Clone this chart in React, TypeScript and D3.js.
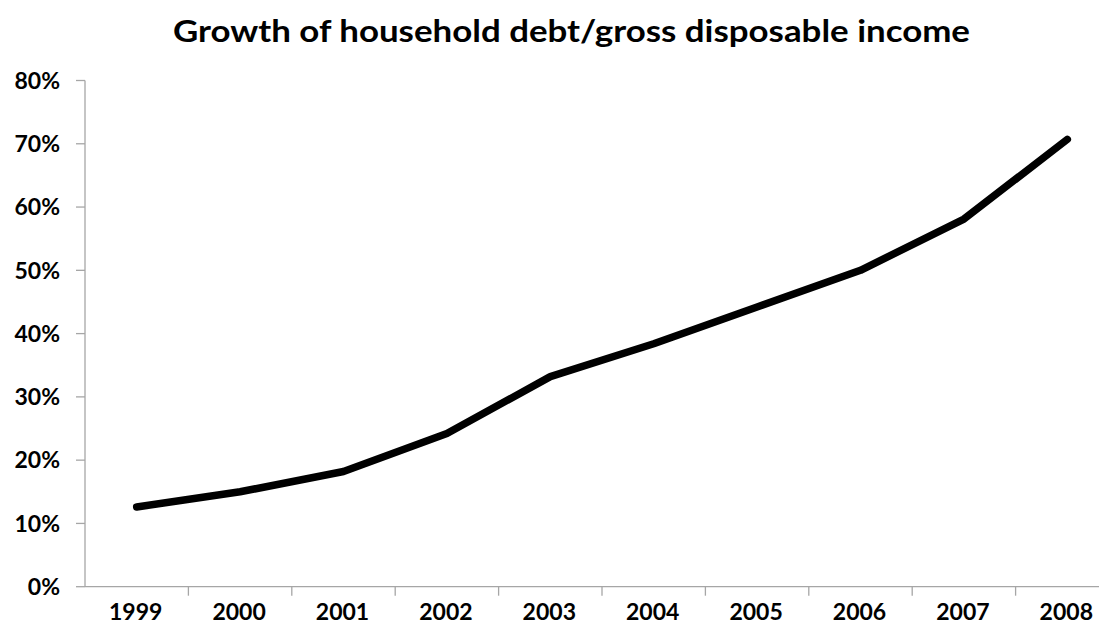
import React, { useEffect, useRef } from "react";
import * as d3 from "d3";

const years = ["1999", "2000", "2001", "2002", "2003", "2004", "2005", "2006", "2007", "2008"];
const debtGrowth = [12.6, 15.0, 18.2, 24.2, 33.2, 38.4, 44.2, 50.0, 58.1, 70.7];
const yTicks = [0, 10, 20, 30, 40, 50, 60, 70, 80];
const title = "Growth of household debt/gross disposable income";

const W = 1099;
const H = 634;
const left = 85;
const bandW = 103.4;
const yTop = 80.5;
const yBottom = 586.7;
const FONT = "Lato, 'Open Sans', sans-serif";

export default function App() {
  const ref = useRef<SVGSVGElement | null>(null);

  useEffect(() => {
    const svg = d3.select(ref.current);
    svg.selectAll("*").remove();

    const x = d3.scaleBand<string>().domain(years).range([left, left + bandW * years.length]).padding(0);
    const y = d3.scaleLinear().domain([0, 80]).range([yBottom, yTop]);

    // Title
    svg.append("text")
      .attr("x", 571.5)
      .attr("y", 42)
      .attr("text-anchor", "middle")
      .attr("font-family", FONT)
      .attr("font-weight", "bold")
      .attr("font-size", 30)
      .attr("textLength", 797)
      .attr("lengthAdjust", "spacingAndGlyphs")
      .attr("fill", "#000")
      .text(title);

    const axisColor = "#a6a6a6";

    // Y axis
    const gy = svg.append("g");
    gy.append("line")
      .attr("x1", left).attr("x2", left)
      .attr("y1", y(80)).attr("y2", y(0))
      .attr("stroke", axisColor).attr("stroke-width", 1.3);
    yTicks.forEach((t) => {
      gy.append("line")
        .attr("x1", left - 9).attr("x2", left)
        .attr("y1", y(t)).attr("y2", y(t))
        .attr("stroke", axisColor).attr("stroke-width", 1.3);
      gy.append("text")
        .attr("x", 60)
        .attr("y", y(t))
        .attr("dy", "0.36em")
        .attr("text-anchor", "end")
        .attr("font-family", FONT)
        .attr("font-weight", "bold")
        .attr("font-size", 23)
        .attr("fill", "#000")
        .text(`${t}%`);
    });

    // X axis
    const gx = svg.append("g");
    gx.append("line")
      .attr("x1", left).attr("x2", W)
      .attr("y1", y(0)).attr("y2", y(0))
      .attr("stroke", axisColor).attr("stroke-width", 1.3);
    years.forEach((yr) => {
      const x0 = x(yr)! + x.bandwidth();
      gx.append("line")
        .attr("x1", x0).attr("x2", x0)
        .attr("y1", y(0)).attr("y2", y(0) + 9)
        .attr("stroke", axisColor).attr("stroke-width", 1.3);
      gx.append("text")
        .attr("x", x(yr)! + x.bandwidth() / 2 - 1)
        .attr("y", 612)
        .attr("dy", "0.36em")
        .attr("text-anchor", "middle")
        .attr("font-family", FONT)
        .attr("font-weight", "bold")
        .attr("font-size", 23)
        .attr("fill", "#000")
        .text(yr);
    });

    // Line
    const line = d3.line<number>()
      .x((_, i) => x(years[i])! + x.bandwidth() / 2)
      .y((d) => y(d));

    svg.append("path")
      .datum(debtGrowth)
      .attr("d", line)
      .attr("fill", "none")
      .attr("stroke", "#000")
      .attr("stroke-width", 7.5)
      .attr("stroke-linecap", "round")
      .attr("stroke-linejoin", "round");
  }, []);

  return (
    <svg
      ref={ref}
      width={W}
      height={H}
      style={{ position: "absolute", left: 0, top: 0, background: "#fff" }}
    />
  );
}
